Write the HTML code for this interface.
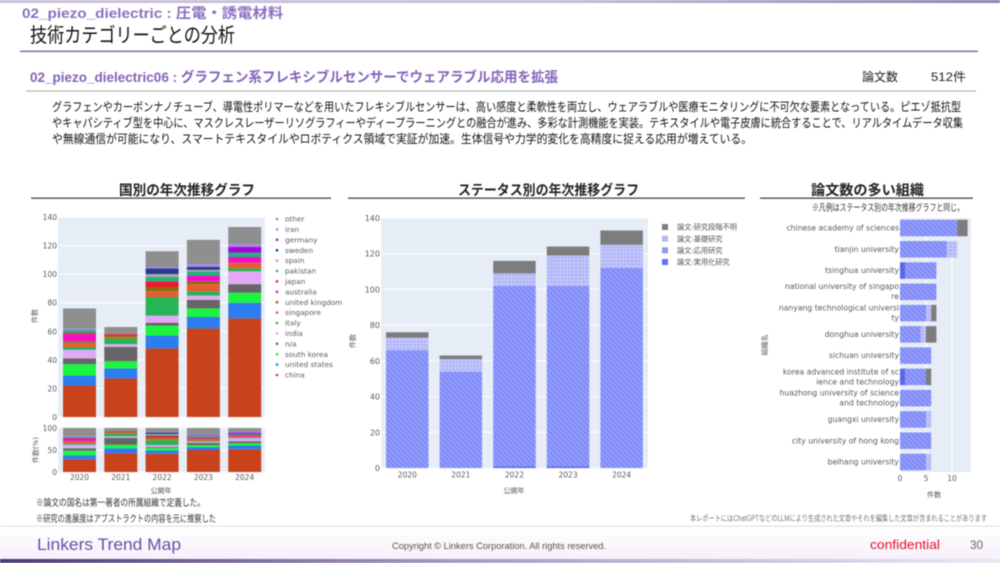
<!DOCTYPE html>
<html lang="ja">
<head>
<meta charset="utf-8">
<title>技術カテゴリーごとの分析</title>
<style>
html,body{margin:0;padding:0;background:#fff;width:1000px;height:563px;overflow:hidden}
#page{position:absolute;left:0;top:0;filter:blur(0.4px)}
text{font-family:"Liberation Sans","Noto Sans CJK JP",sans-serif}
.plot text{font-family:"DejaVu Sans","Noto Sans CJK JP",sans-serif}
</style>
</head>
<body>
<svg id="page" width="1000" height="563" viewBox="0 0 1000 563" xmlns="http://www.w3.org/2000/svg">
<defs>
<linearGradient id="topBand" x1="0" x2="1" y1="0" y2="0"><stop offset="0" stop-color="#c9c2da"/><stop offset="0.55" stop-color="#c7bddb"/><stop offset="1" stop-color="#8f80ad"/></linearGradient>
<linearGradient id="bottomBand" x1="0" x2="1" y1="0" y2="0"><stop offset="0" stop-color="#4d3a78"/><stop offset="0.45" stop-color="#a898c4"/><stop offset="1" stop-color="#ece8f3"/></linearGradient>
<linearGradient id="footerGlow" x1="0" x2="0" y1="0" y2="1"><stop offset="0" stop-color="#ffffff"/><stop offset="1" stop-color="#f6f0fb"/></linearGradient>
<pattern id="hatchApplied" width="5" height="5" patternUnits="userSpaceOnUse"><rect width="5" height="5" fill="#808bf8"/><path d="M-1 4L1 6M0 0L5 5M4 -1L6 1" stroke="#a0a7fb" stroke-width="1.1"/></pattern>
<pattern id="hatchPractical" width="4" height="4" patternUnits="userSpaceOnUse"><rect width="4" height="4" fill="#636efa"/><path d="M-1 3L1 1M0 4L4 0M3 5L5 3" stroke="#4c56d8" stroke-width="0.8"/></pattern>
<pattern id="hatchBasic" width="3.5" height="3.5" patternUnits="userSpaceOnUse"><rect width="3.5" height="3.5" fill="#b0b5f7"/><path d="M0 0H3.5M0 0V3.5" stroke="#d6d9fc" stroke-width="1"/></pattern>
</defs>

<rect x="0" y="0" width="1000" height="3" fill="url(#topBand)"/>
<text x="22" y="18" font-size="14" font-weight="700" fill="#8b6fc0" textLength="261" lengthAdjust="spacingAndGlyphs">02_piezo_dielectric : 圧電・誘電材料</text>
<text x="30" y="42" font-size="20" fill="#111" textLength="205" lengthAdjust="spacingAndGlyphs">技術カテゴリーごとの分析</text>
<rect x="20" y="50.5" width="958" height="1.6" fill="#8d70bd"/>
<text x="30" y="82" font-size="14" font-weight="700" fill="#8363b8" textLength="528" lengthAdjust="spacingAndGlyphs">02_piezo_dielectric06 : グラフェン系フレキシブルセンサーでウェアラブル応用を拡張</text>
<text x="862" y="81" font-size="12" fill="#222" textLength="36" lengthAdjust="spacingAndGlyphs">論文数</text>
<text x="931" y="81" font-size="12" fill="#222" textLength="35" lengthAdjust="spacingAndGlyphs">512件</text>
<rect x="26" y="90.5" width="950" height="1" fill="#a5a5a5"/>

<text x="52" y="111" font-size="12" fill="#111" textLength="909" lengthAdjust="spacingAndGlyphs">グラフェンやカーボンナノチューブ、導電性ポリマーなどを用いたフレキシブルセンサーは、高い感度と柔軟性を両立し、ウェアラブルや医療モニタリングに不可欠な要素となっている。ピエゾ抵抗型</text>
<text x="52" y="127" font-size="12" fill="#111" textLength="911" lengthAdjust="spacingAndGlyphs">やキャパシティブ型を中心に、マスクレスレーザーリソグラフィーやディープラーニングとの融合が進み、多彩な計測機能を実装。テキスタイルや電子皮膚に統合することで、リアルタイムデータ収集</text>
<text x="52" y="143" font-size="12" fill="#111" textLength="700" lengthAdjust="spacingAndGlyphs">や無線通信が可能になり、スマートテキスタイルやロボティクス領域で実証が加速。生体信号や力学的変化を高精度に捉える応用が増えている。</text>

<text x="119" y="195" font-size="14" fill="#222" font-weight="700" textLength="136" lengthAdjust="spacingAndGlyphs">国別の年次推移グラフ</text>
<rect x="31" y="197.5" width="300" height="1.3" fill="#444"/>
<text x="458" y="195" font-size="14" fill="#222" font-weight="700" textLength="181" lengthAdjust="spacingAndGlyphs">ステータス別の年次推移グラフ</text>
<rect x="348" y="197.5" width="397" height="1.3" fill="#444"/>
<text x="811" y="195" font-size="14" fill="#222" font-weight="700" textLength="113" lengthAdjust="spacingAndGlyphs">論文数の多い組織</text>
<rect x="760" y="197.5" width="213" height="1.3" fill="#444"/>
<text x="812" y="211" font-size="9.5" fill="#333" textLength="152" lengthAdjust="spacingAndGlyphs">※凡例はステータス別の年次推移グラフと同じ。</text>

<g id="countryChart" class="plot"></g>
<g id="statusChart" class="plot"></g>
<g id="orgChart" class="plot"></g>

<text x="36" y="506" font-size="9.5" fill="#333" textLength="169" lengthAdjust="spacingAndGlyphs">※論文の国名は第一著者の所属組織で定義した。</text>
<text x="36" y="522" font-size="9.5" fill="#333" textLength="180" lengthAdjust="spacingAndGlyphs">※研究の進展度はアブストラクトの内容を元に推察した</text>
<text x="690" y="521" font-size="8" fill="#777" textLength="297" lengthAdjust="spacingAndGlyphs">本レポートにはChatGPTなどのLLMにより生成された文章やそれを編集した文章が含まれることがあります</text>

<rect x="0" y="527" width="1000" height="32" fill="url(#footerGlow)"/>
<rect x="0" y="525.5" width="1000" height="1.2" fill="#e2e2e2"/>
<text x="37" y="550" font-size="17" fill="#6a4fa3" textLength="144" lengthAdjust="spacingAndGlyphs">Linkers Trend Map</text>
<text x="392" y="549" font-size="9.5" fill="#555" textLength="214" lengthAdjust="spacingAndGlyphs">Copyright © Linkers Corporation. All rights reserved.</text>
<text x="870" y="549" font-size="13" fill="#e8102a" textLength="70" lengthAdjust="spacingAndGlyphs">confidential</text>
<text x="970" y="549" font-size="11.5" fill="#666" textLength="13" lengthAdjust="spacingAndGlyphs">30</text>
<rect x="0" y="559" width="1000" height="4" fill="url(#bottomBand)"/>
</svg>

<script>
const years = ['2020', '2021', '2022', '2023', '2024'];

// Country chart: paper counts per year, stacking order bottom to top
const countryNames = ['china', 'united states', 'south korea', 'n/a', 'india', 'italy', 'singapore', 'united kingdom', 'australia', 'japan', 'pakistan', 'spain', 'sweden', 'germany', 'iran', 'other'];
const china = [22, 27, 48, 62, 69];
const unitedStates = [7, 7, 9, 8, 11];
const southKorea = [8, 5, 7, 6, 7];
const notAvailable = [4, 10, 2, 6, 6];
const india = [6, 2, 5, 3, 9];
const italy = [2, 4, 13, 3, 2];
const singapore = [3, 1, 4, 5, 4];
const unitedKingdom = [1, 1, 3, 2, 0];
const australia = [5, 0, 0, 4, 4];
const japan = [1, 1, 4, 0, 0];
const pakistan = [2, 0, 3, 3, 3];
const spain = [0, 0, 2, 1, 0];
const sweden = [0, 0, 4, 2, 0];
const germany = [0, 0, 0, 0, 4];
const iran = [1, 0, 1, 2, 2];
const other = [14, 5, 11, 17, 12];
const countrySeries = [china, unitedStates, southKorea, notAvailable, india, italy, singapore, unitedKingdom, australia, japan, pakistan, spain, sweden, germany, iran, other];
const countryColors = ['#c8431c', '#2e7df0', '#1cf53f', '#666666', '#e2a8f6', '#27b455', '#e85c34', '#8c6a12', '#f010c4', '#ee1a30', '#22b27a', '#aaaaaa', '#2b3a90', '#a308d8', '#ab86ea', '#8f8f8f'];
const countryTicks = [0, 20, 40, 60, 80, 100, 120, 140];
const shareTicks = [0, 50, 100];

// Status chart
const statusNames = ['論文:実用化研究', '論文:応用研究', '論文:基礎研究', '論文:研究段階不明'];
const practical = [0, 0, 1, 1, 0];
const applied = [66, 54, 101, 101, 112];
const basic = [7, 7, 7, 17, 13];
const unknown = [3, 2, 7, 5, 8];
const statusTicks = [0, 20, 40, 60, 80, 100, 120, 140];

// Organization chart, top row to bottom row
const orgLabels = [
  ['chinese academy of sciences'],
  ['tianjin university'],
  ['tsinghua university'],
  ['national university of singapo', 're'],
  ['nanyang technological universi', 'ty'],
  ['donghua university'],
  ['sichuan university'],
  ['korea advanced institute of sc', 'ience and technology'],
  ['huazhong university of science', 'and technology'],
  ['guangxi university'],
  ['city university of hong kong'],
  ['beihang university']
];
const orgPractical = [0, 0, 1, 0, 0, 0, 0, 1, 0, 0, 0, 0];
const orgApplied = [11, 9, 6, 7, 5, 4, 6, 4, 6, 5, 6, 5];
const orgBasic = [0, 2, 0, 0, 1, 1, 0, 0, 0, 1, 0, 1];
const orgUnknown = [2, 0, 0, 0, 1, 2, 0, 1, 0, 0, 0, 0];
const orgTicks = [0, 5, 10];

const statusFills = ['url(#hatchPractical)', 'url(#hatchApplied)', 'url(#hatchBasic)', '#7d7d7d'];
const statusSwatches = ['#636efa', '#8d96f9', '#b4b9f7', '#7d7d7d'];
const NS = 'http://www.w3.org/2000/svg';
const TICK = '#555a62';

function mk(parent, tag, props, content) {
  const n = document.createElementNS(NS, tag);
  for (const k in props) n.setAttribute(k, props[k]);
  if (content !== undefined) n.textContent = content;
  parent.appendChild(n);
  return n;
}
function linear(d0, d1, r0, r1) {
  return v => r0 + (v - d0) / (d1 - d0) * (r1 - r0);
}
function band(count, start, step) {
  return i => start + i * step;
}
function sum(arr) {
  return arr.reduce((a, b) => a + b, 0);
}

function plotFrame(g, x0, x1, yTop, yBottom, ticks, y, tickFont) {
  const bg = mk(g, 'rect', {x: x0, y: yTop, width: x1 - x0, height: yBottom - yTop, fill: '#e7edf6'});
  
  
  ticks.forEach(t => {
    const line = mk(g, 'line', {x1: x0, x2: x1, y1: y(t), y2: y(t), stroke: '#fff', 'stroke-width': 1});
    
    
    const label = mk(g, 'text', {x: x0 - 1, y: y(t) + 3, 'font-size': tickFont, fill: TICK, 'text-anchor': 'end'}, t);
    
    
  });
}
function verticalTitle(g, x, y, content, size) {
  const t = mk(g, 'text', {x: x, y: y, 'font-size': size, fill: '#555', 'text-anchor': 'middle', transform: 'rotate(-90 ' + x + ' ' + y + ')'}, content);
  
  
}

/* ---------- country chart ---------- */
(function () {
  const g = document.getElementById('countryChart');
  const y = linear(0, 140, 417, 217);
  const yShare = linear(0, 100, 472, 428);
  const xBar = band(years.length, 63, 41.3);
  const barWidth = 33;
  plotFrame(g, 58, 265, 217, 418, countryTicks, y, 7.5);
  plotFrame(g, 58, 265, 427, 473, shareTicks, yShare, 7.5);
  years.forEach((year, i) => {
    let cum = 0;
    const total = sum(countrySeries.map(s => s[i]));
    let cumShare = 0;
    countrySeries.forEach((s, k) => {
      const v = s[i];
      if (!v) return;
      const seg = mk(g, 'rect', {x: xBar(i), y: y(cum + v), width: barWidth, height: y(cum) - y(cum + v), fill: countryColors[k]});
      
      
      cum += v;
      const p = v / total * 100;
      const shareSeg = mk(g, 'rect', {x: xBar(i), y: yShare(cumShare + p), width: barWidth, height: yShare(cumShare) - yShare(cumShare + p), fill: countryColors[k]});
      
      
      cumShare += p;
    });
    const tick = mk(g, 'text', {x: xBar(i) + barWidth / 2, y: 480, 'font-size': 7.5, fill: TICK, 'text-anchor': 'middle'}, year);
    
    
  });
  const xt = mk(g, 'text', {x: 161, y: 493, 'font-size': 7, fill: '#555', 'text-anchor': 'middle'}, '公開年');
  
  
  verticalTitle(g, 37, 316, '件数', 7);
  verticalTitle(g, 38, 450, '件数(%)', 7);
  const legendY = linear(0, countryNames.length - 1, 375, 219);
  countryNames.forEach((name, k) => {
    const dot = mk(g, 'circle', {cx: 277, cy: legendY(k), r: 1.3, fill: countryColors[k]});
    
    
    const lab = mk(g, 'text', {x: 285, y: legendY(k) + 2.6, 'font-size': 7.3, fill: '#555a62'}, name);
    
    
  });
})();

/* ---------- status chart ---------- */
(function () {
  const g = document.getElementById('statusChart');
  const y = linear(0, 140, 468, 218);
  const xBar = band(years.length, 386, 53.6);
  const barWidth = 42.5;
  plotFrame(g, 381, 648, 218, 469, statusTicks, y, 8);
  const series = [practical, applied, basic, unknown];
  years.forEach((year, i) => {
    let cum = 0;
    series.forEach((s, k) => {
      const v = s[i];
      if (!v) return;
      const seg = mk(g, 'rect', {x: xBar(i), y: y(cum + v), width: barWidth, height: y(cum) - y(cum + v), fill: statusFills[k]});
      
      
      cum += v;
    });
    const tick = mk(g, 'text', {x: xBar(i) + barWidth / 2, y: 477.5, 'font-size': 7.5, fill: TICK, 'text-anchor': 'middle'}, year);
    
    
  });
  const xt = mk(g, 'text', {x: 514, y: 493, 'font-size': 7, fill: '#555', 'text-anchor': 'middle'}, '公開年');
  
  
  verticalTitle(g, 355, 341, '件数', 7);
  const legendY = linear(0, statusNames.length - 1, 262, 227);
  statusNames.forEach((name, k) => {
    const sw = mk(g, 'rect', {x: 662, y: legendY(k) - 3, width: 6, height: 6, fill: statusSwatches[k]});
    
    
    const lab = mk(g, 'text', {x: 677, y: legendY(k) + 2.6, 'font-size': 7.2, fill: '#555'}, name);
    
    
  });
})();

/* ---------- organization chart ---------- */
(function () {
  const g = document.getElementById('orgChart');
  const x = linear(0, 10, 900, 952);
  const rowY = linear(0, orgLabels.length - 1, 228, 462);
  const barHeight = 16.5;
  const bg = mk(g, 'rect', {x: 900, y: 218, width: 71, height: 254, fill: '#e7edf6'});
  
  
  orgTicks.forEach(t => {
    const line = mk(g, 'line', {x1: x(t), x2: x(t), y1: 218, y2: 472, stroke: '#fff', 'stroke-width': 1});
    
    
    const label = mk(g, 'text', {x: x(t), y: 481, 'font-size': 7.5, fill: TICK, 'text-anchor': 'middle'}, t);
    
    
  });
  const series = [orgPractical, orgApplied, orgBasic, orgUnknown];
  orgLabels.forEach((lines, i) => {
    let cum = 0;
    series.forEach((s, k) => {
      const v = s[i];
      if (!v) return;
      const seg = mk(g, 'rect', {x: x(cum), y: rowY(i) - barHeight / 2, width: x(cum + v) - x(cum), height: barHeight, fill: statusFills[k]});
      
      
      cum += v;
    });
    lines.forEach((line, j) => {
      const offset = lines.length === 1 ? 2.6 : (j === 0 ? -2.6 : 7.4);
      const lab = mk(g, 'text', {x: 899, y: rowY(i) + offset, 'font-size': 7.7, fill: '#555a62', 'text-anchor': 'end'}, line);
      
      
    });
  });
  const xt = mk(g, 'text', {x: 934, y: 497, 'font-size': 7, fill: '#555', 'text-anchor': 'middle'}, '件数');
  
  
  verticalTitle(g, 767, 345, '組織名', 7);
})();
</script>
</body>
</html>
